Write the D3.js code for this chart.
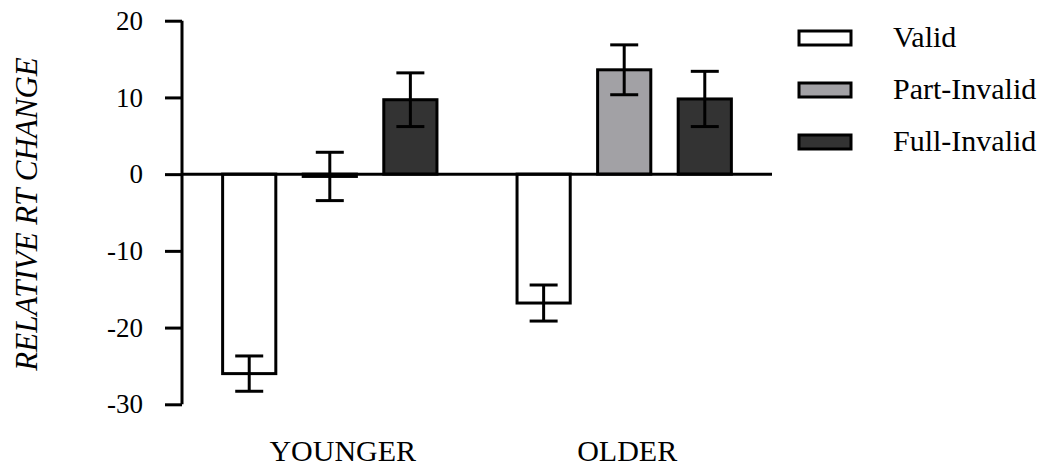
<!DOCTYPE html>
<html>
<head>
<meta charset="utf-8">
<script src="https://cdn.jsdelivr.net/npm/d3@7"></script>
<style>
    body { margin: 0; background: #fff; }
    svg text { font-family: "Times New Roman", "Liberation Serif", serif; fill: #000; }
</style>
</head>
<body>
<div class="svg_vis_container"></div>
<script>
// chart data
const groups = ["YOUNGER", "OLDER"];
const conditions = ["Valid", "Part-Invalid", "Full-Invalid"];
const means = {
    "YOUNGER": [-26.0, -0.3, 9.7],
    "OLDER":   [-16.8, 13.6, 9.8]
};
const errors = {
    "YOUNGER": [2.3, 3.15, 3.5],
    "OLDER":   [2.35, 3.25, 3.6]
};
const y_ticks = [-30, -20, -10, 0, 10, 20];

const colors = ["#ffffff", "#a2a1a5", "#333333"];
const serif = "'Times New Roman', 'Liberation Serif', serif";

const width = 1050, height = 467;

let svg = d3.select(".svg_vis_container")
    .append("svg")
        .attr("width", width)
        .attr("height", height);

// scales
let y_scale = d3.scaleLinear()
    .domain([-30, 20])
    .range([404.3, 20.7]);

let x_group = d3.scaleBand()
    .domain(groups)
    .range([182, 772])
    .paddingInner(0.272)
    .paddingOuter(0.138);

let x_cond = d3.scaleBand()
    .domain(conditions)
    .range([0, x_group.bandwidth()])
    .paddingInner(0.34);

// y axis (plain hyphen for negatives, like the original)
let y_axis = svg.append("g")
    .attr("transform", "translate(182, 0)")
    .call(d3.axisLeft(y_scale)
        .tickValues(y_ticks)
        .tickSize(17)
        .tickPadding(22)
        .tickFormat(d => String(d)));

y_axis.attr("font-family", serif);
y_axis.select(".domain")
    .attr("d", "M0," + y_scale(-30) + "V" + y_scale(20))
    .attr("stroke", "#000")
    .attr("stroke-width", 3);
y_axis.selectAll(".tick line")
    .attr("stroke", "#000")
    .attr("stroke-width", 3);
y_axis.selectAll(".tick text")
    .style("font-family", serif)
    .style("font-size", "27px")
    .attr("dy", "0.32em");

// bars
let rows = [];
groups.forEach(g => conditions.forEach((c, i) => {
    rows.push({group: g, cond: c, idx: i, mean: means[g][i], err: errors[g][i]});
}));

let bar_g = svg.append("g");

bar_g.selectAll(".bar")
    .data(rows)
    .enter().append("rect")
        .attr("class", "bar")
        .attr("x", d => x_group(d.group) + x_cond(d.cond))
        .attr("y", d => y_scale(Math.max(0, d.mean)))
        .attr("width", x_cond.bandwidth())
        .attr("height", d => Math.abs(y_scale(d.mean) - y_scale(0)))
        .style("fill", d => colors[d.idx])
        .style("stroke", "#000")
        .style("stroke-width", 3);

// zero line, drawn over the bars
svg.append("line")
    .attr("x1", 182)
    .attr("x2", 772)
    .attr("y1", y_scale(0))
    .attr("y2", y_scale(0))
    .style("stroke", "#000")
    .style("stroke-width", 3);

// error bars
let cap = 14;
let err_g = svg.append("g")
    .style("stroke", "#000")
    .style("stroke-width", 3);

rows.forEach(d => {
    let cx = x_group(d.group) + x_cond(d.cond) + x_cond.bandwidth() / 2;
    let y_hi = y_scale(d.mean + d.err);
    let y_lo = y_scale(d.mean - d.err);
    err_g.append("line")
        .attr("x1", cx).attr("x2", cx)
        .attr("y1", y_hi).attr("y2", y_lo);
    err_g.append("line")
        .attr("x1", cx - cap).attr("x2", cx + cap)
        .attr("y1", y_hi).attr("y2", y_hi);
    err_g.append("line")
        .attr("x1", cx - cap).attr("x2", cx + cap)
        .attr("y1", y_lo).attr("y2", y_lo);
});

// group labels
svg.selectAll(".group-label")
    .data(groups)
    .enter().append("text")
        .attr("class", "group-label")
        .attr("x", d => x_group(d) + x_group.bandwidth() / 2 + (d === "YOUNGER" ? 13 : 3))
        .attr("y", 461)
        .style("text-anchor", "middle")
        .style("font-family", serif)
        .style("font-size", "30px")
        .text(d => d);

// y label
svg.append("text")
    .attr("transform", "translate(37, 214) rotate(-90)")
    .style("text-anchor", "middle")
    .style("font-family", serif)
    .style("font-size", "31px")
    .style("font-style", "italic")
    .text("RELATIVE RT CHANGE");

// legend
let legend = svg.selectAll(".legend")
    .data(conditions)
    .enter().append("g")
        .attr("class", "legend")
        .attr("transform", (d, i) => "translate(0," + (38 + i * 52) + ")");

legend.append("rect")
    .attr("x", 799)
    .attr("y", -7)
    .attr("width", 52)
    .attr("height", 14)
    .style("fill", (d, i) => colors[i])
    .style("stroke", "#000")
    .style("stroke-width", 3);

legend.append("text")
    .attr("x", 893)
    .attr("y", 9)
    .style("font-family", serif)
    .style("font-size", "30px")
    .text(d => d);
</script>
</body>
</html>
